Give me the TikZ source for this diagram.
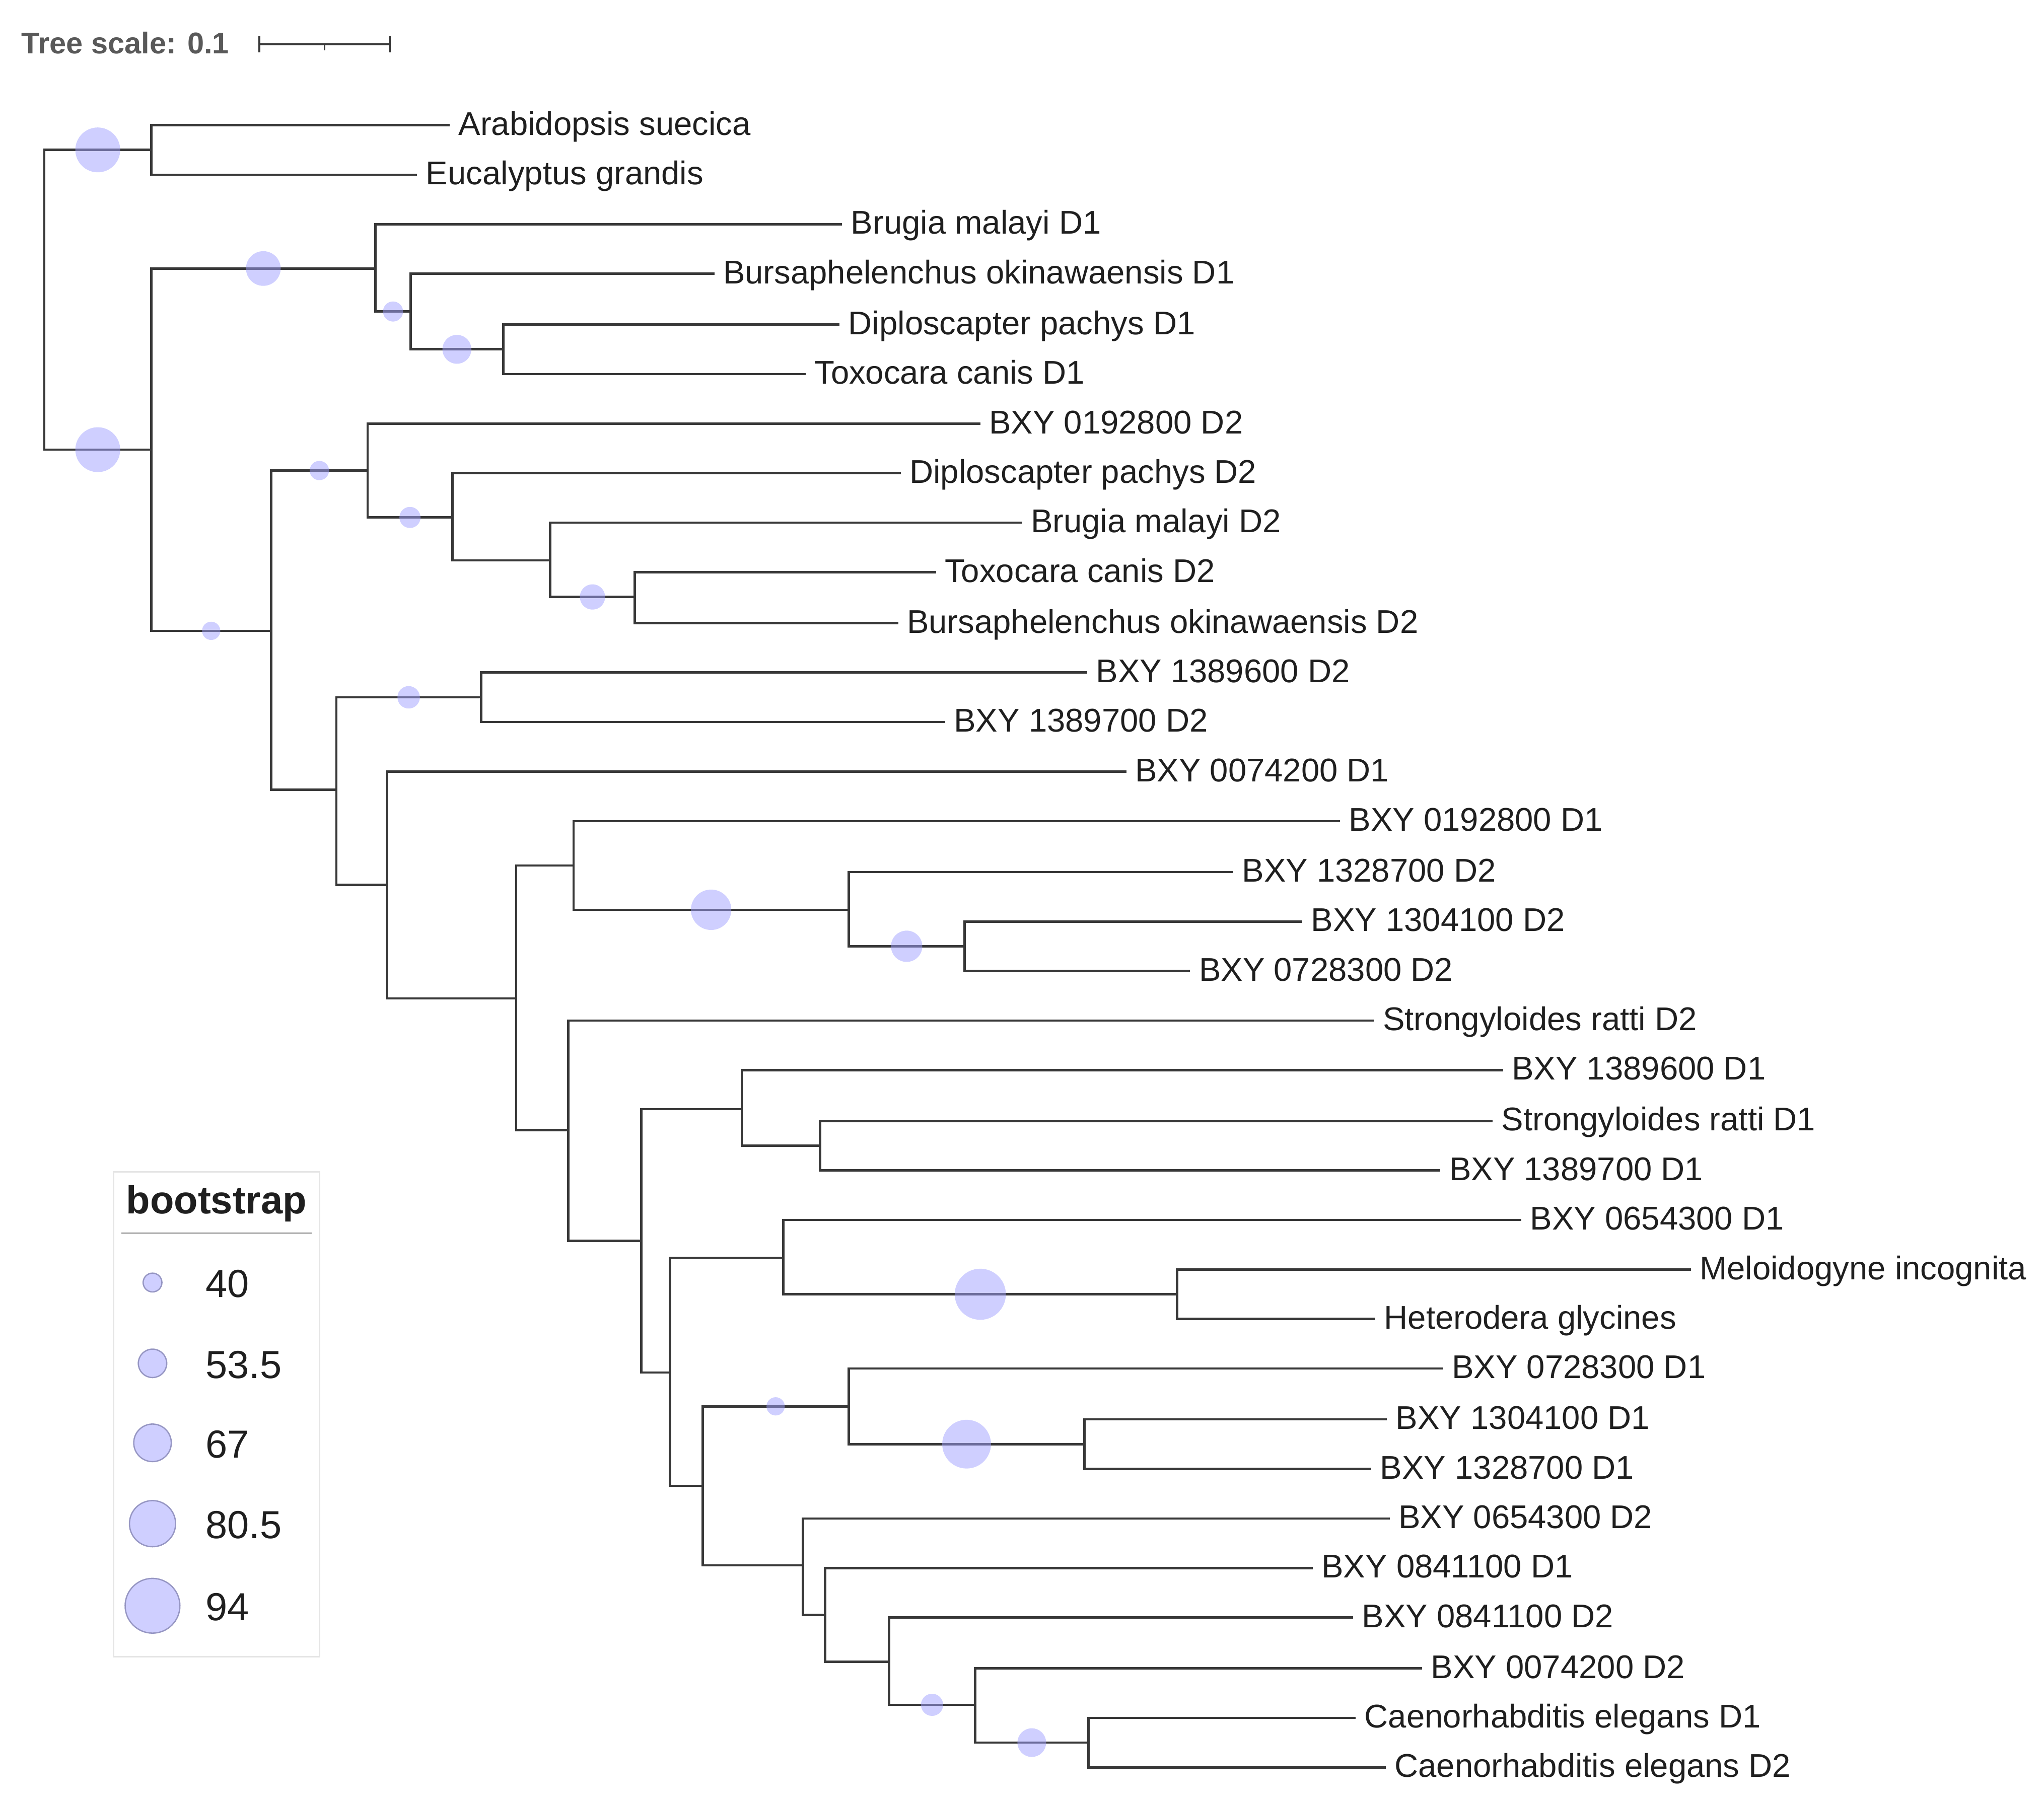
\documentclass[tikz,border=0pt]{standalone}
\usepackage{fontspec}
\setmainfont{Liberation Sans}
\usetikzlibrary{positioning}
\definecolor{bootfill}{RGB}{160,160,255}
\definecolor{bootedge}{RGB}{150,150,195}
\colorlet{branchcol}{black!78}
\tikzstyle{branch}=[draw=branchcol, line width=0.9pt]
\tikzstyle{leaf}=[anchor=west, inner xsep=3.2pt, inner ysep=0pt, text height=10.2pt,
  text depth=2.6pt, text=black!88, font=\fontsize{12.6}{15}\selectfont]
\tikzstyle{legval}=[inner sep=0pt, text height=11.4pt, text depth=0pt,
  text=black!88, font=\fontsize{15}{18}\selectfont]
\tikzstyle{legtitle}=[anchor=base, inner sep=0pt, text=black!88,
  font=\bfseries\fontsize{15}{18}\selectfont]
\tikzstyle{scaletxt}=[anchor=base west, inner sep=0pt, text=black!65,
  font=\bfseries\fontsize{11.5}{14}\selectfont]
\tikzset{boot/.style={circle, inner sep=0pt, minimum size=#1pt, fill=bootfill,
    fill opacity=0.5, draw=none},
  legboot/.style={boot=#1, draw=bootedge, line width=0.5pt}}

\begin{document}
\begin{tikzpicture}[x=0.5pt, y=-0.5pt]
  \useasboundingbox (0,0) rectangle (1568,1383);

  % tree scale
  \node[scaletxt] (treescale) at (16,41) {Tree scale: 0.1};
  \draw[branchcol, line width=0.7pt] (199,34) -- (299,34);
  \draw[branchcol, line width=0.7pt] (199,28) -- (199,40) (299,28) -- (299,40)
    (249,34) -- (249,38.5);

  % leaves
  \node[leaf] (ara) at (345,96) {Arabidopsis suecica};
  \node[leaf] (euc) at (320,134) {Eucalyptus grandis};
  \node[leaf] (bmA) at (646,172) {Brugia malayi D1};
  \node[leaf] (boA) at (548,210) {Bursaphelenchus okinawaensis D1};
  \node[leaf] (dpA) at (644,249) {Diploscapter pachys D1};
  \node[leaf] (tcA) at (618,287) {Toxocara canis D1};
  \node[leaf] (bx0192B) at (752,325) {BXY 0192800 D2};
  \node[leaf] (dpB) at (691,363) {Diploscapter pachys D2};
  \node[leaf] (bmB) at (784,401) {Brugia malayi D2};
  \node[leaf] (tcB) at (718,439) {Toxocara canis D2};
  \node[leaf] (boB) at (689,478) {Bursaphelenchus okinawaensis D2};
  \node[leaf] (bx1396B) at (834,516) {BXY 1389600 D2};
  \node[leaf] (bx1397B) at (725,554) {BXY 1389700 D2};
  \node[leaf] (bx0074A) at (864,592) {BXY 0074200 D1};
  \node[leaf] (bx0192A) at (1028,630) {BXY 0192800 D1};
  \node[leaf] (bx1328B) at (946,669) {BXY 1328700 D2};
  \node[leaf] (bx1304B) at (999,707) {BXY 1304100 D2};
  \node[leaf] (bx0728B) at (913,745) {BXY 0728300 D2};
  \node[leaf] (srB) at (1054,783) {Strongyloides ratti D2};
  \node[leaf] (bx1396A) at (1153,821) {BXY 1389600 D1};
  \node[leaf] (srA) at (1145,860) {Strongyloides ratti D1};
  \node[leaf] (bx1397A) at (1105,898) {BXY 1389700 D1};
  \node[leaf] (bx0654A) at (1167,936) {BXY 0654300 D1};
  \node[leaf] (mi) at (1297,974) {Meloidogyne incognita};
  \node[leaf] (hg) at (1055,1012) {Heterodera glycines};
  \node[leaf] (bx0728A) at (1107,1050) {BXY 0728300 D1};
  \node[leaf] (bx1304A) at (1064,1089) {BXY 1304100 D1};
  \node[leaf] (bx1328A) at (1052,1127) {BXY 1328700 D1};
  \node[leaf] (bx0654B) at (1066,1165) {BXY 0654300 D2};
  \node[leaf] (bx0841A) at (1007,1203) {BXY 0841100 D1};
  \node[leaf] (bx0841B) at (1038,1241) {BXY 0841100 D2};
  \node[leaf] (bx0074B) at (1091,1280) {BXY 0074200 D2};
  \node[leaf] (ceA) at (1040,1318) {Caenorhabditis elegans D1};
  \node[leaf] (ceB) at (1063,1356) {Caenorhabditis elegans D2};

  % inner nodes
  \coordinate (root) at (34,230);
  \coordinate (plant) at (116,115);
  \coordinate (nema) at (116,345);
  \coordinate (dA) at (288,206);
  \coordinate (dA2) at (315,239);
  \coordinate (dA3) at (386,268);
  \coordinate (dB) at (208,484);
  \coordinate (c1) at (282,361);
  \coordinate (c1a) at (347,397);
  \coordinate (c1b) at (422,430);
  \coordinate (c1c) at (487,458);
  \coordinate (c2) at (258,606);
  \coordinate (c2a) at (369,535);
  \coordinate (c2b) at (297,679);
  \coordinate (c3) at (396,766);
  \coordinate (c3a) at (440,664);
  \coordinate (c3b) at (651,698);
  \coordinate (c3c) at (740,726);
  \coordinate (c4) at (436,867);
  \coordinate (c5) at (492,952);
  \coordinate (c5a) at (569,851);
  \coordinate (c5b) at (629,879);
  \coordinate (c6) at (514,1053);
  \coordinate (c6a) at (601,965);
  \coordinate (c6b) at (903,993);
  \coordinate (c7) at (539,1140);
  \coordinate (c7a) at (651,1079);
  \coordinate (c7b) at (832,1108);
  \coordinate (c8) at (616,1201);
  \coordinate (c9) at (633,1239);
  \coordinate (c10) at (682,1275);
  \coordinate (c11) at (748,1308);
  \coordinate (c12) at (835,1337);

  % branches
  \draw[branch] (root) |- (plant) node[boot=17.2, pos=.75] {};
  \draw[branch] (root) |- (nema) node[boot=17.2, pos=.75] {};
  \draw[branch] (plant) |- (ara) (plant) |- (euc);
  \draw[branch] (nema) |- (dA) node[boot=13.3, pos=.75] {};
  \draw[branch] (nema) |- (dB) node[boot=7, pos=.75] {};
  \draw[branch] (dA) |- (bmA);
  \draw[branch] (dA) |- (dA2) node[boot=7.7, pos=.75] {};
  \draw[branch] (dA2) |- (boA);
  \draw[branch] (dA2) |- (dA3) node[boot=11.1, pos=.75] {};
  \draw[branch] (dA3) |- (dpA) (dA3) |- (tcA);
  \draw[branch] (dB) |- (c1) node[boot=7.4, pos=.75] {};
  \draw[branch] (dB) |- (c2);
  \draw[branch] (c1) |- (bx0192B);
  \draw[branch] (c1) |- (c1a) node[boot=8.1, pos=.75] {};
  \draw[branch] (c1a) |- (dpB) (c1a) |- (c1b);
  \draw[branch] (c1b) |- (bmB);
  \draw[branch] (c1b) |- (c1c) node[boot=9.7, pos=.75] {};
  \draw[branch] (c1c) |- (tcB) (c1c) |- (boB);
  \draw[branch] (c2) |- (c2a) node[boot=8.6, pos=.75] {};
  \draw[branch] (c2) |- (c2b);
  \draw[branch] (c2a) |- (bx1396B) (c2a) |- (bx1397B);
  \draw[branch] (c2b) |- (bx0074A) (c2b) |- (c3);
  \draw[branch] (c3) |- (c3a) (c3) |- (c4);
  \draw[branch] (c3a) |- (bx0192A);
  \draw[branch] (c3a) |- (c3b) node[boot=15.5, pos=.75] {};
  \draw[branch] (c3b) |- (bx1328B);
  \draw[branch] (c3b) |- (c3c) node[boot=12, pos=.75] {};
  \draw[branch] (c3c) |- (bx1304B) (c3c) |- (bx0728B);
  \draw[branch] (c4) |- (srB) (c4) |- (c5);
  \draw[branch] (c5) |- (c5a) (c5) |- (c6);
  \draw[branch] (c5a) |- (bx1396A) (c5a) |- (c5b);
  \draw[branch] (c5b) |- (srA) (c5b) |- (bx1397A);
  \draw[branch] (c6) |- (c6a) (c6) |- (c7);
  \draw[branch] (c6a) |- (bx0654A);
  \draw[branch] (c6a) |- (c6b) node[boot=19.6, pos=.75] {};
  \draw[branch] (c6b) |- (mi) (c6b) |- (hg);
  \draw[branch] (c7) |- (c7a) node[boot=7, pos=.75] {};
  \draw[branch] (c7) |- (c8);
  \draw[branch] (c7a) |- (bx0728A);
  \draw[branch] (c7a) |- (c7b) node[boot=18.7, pos=.75] {};
  \draw[branch] (c7b) |- (bx1304A) (c7b) |- (bx1328A);
  \draw[branch] (c8) |- (bx0654B) (c8) |- (c9);
  \draw[branch] (c9) |- (bx0841A) (c9) |- (c10);
  \draw[branch] (c10) |- (bx0841B);
  \draw[branch] (c10) |- (c11) node[boot=8.5, pos=.75] {};
  \draw[branch] (c11) |- (bx0074B);
  \draw[branch] (c11) |- (c12) node[boot=11, pos=.75] {};
  \draw[branch] (c12) |- (ceA) (c12) |- (ceB);

  % legend
  \draw[black!10, line width=0.6pt] (87,899) rectangle (245,1271);
  \node[legtitle] (legend) at (166,931) {bootstrap};
  \draw[black!50, line width=0.5pt] (93,946) -- (239,946);
  \node[legboot=7.2] (l40) at (117,984) {};
  \node[legboot=10.9] (l53) at (117,1046) {};
  \node[legboot=14.4] (l67) at (117,1107) {};
  \node[legboot=17.7] (l80) at (117,1169) {};
  \node[legboot=21] (l94) at (117,1232) {};
  \node[legval, right=20.2pt] (v40) at (l40) {40};
  \node[legval, right=20.2pt] (v53) at (l53) {53.5};
  \node[legval, right=20.2pt] (v67) at (l67) {67};
  \node[legval, right=20.2pt] (v80) at (l80) {80.5};
  \node[legval, right=20.2pt] (v94) at (l94) {94};
\end{tikzpicture}
\end{document}
